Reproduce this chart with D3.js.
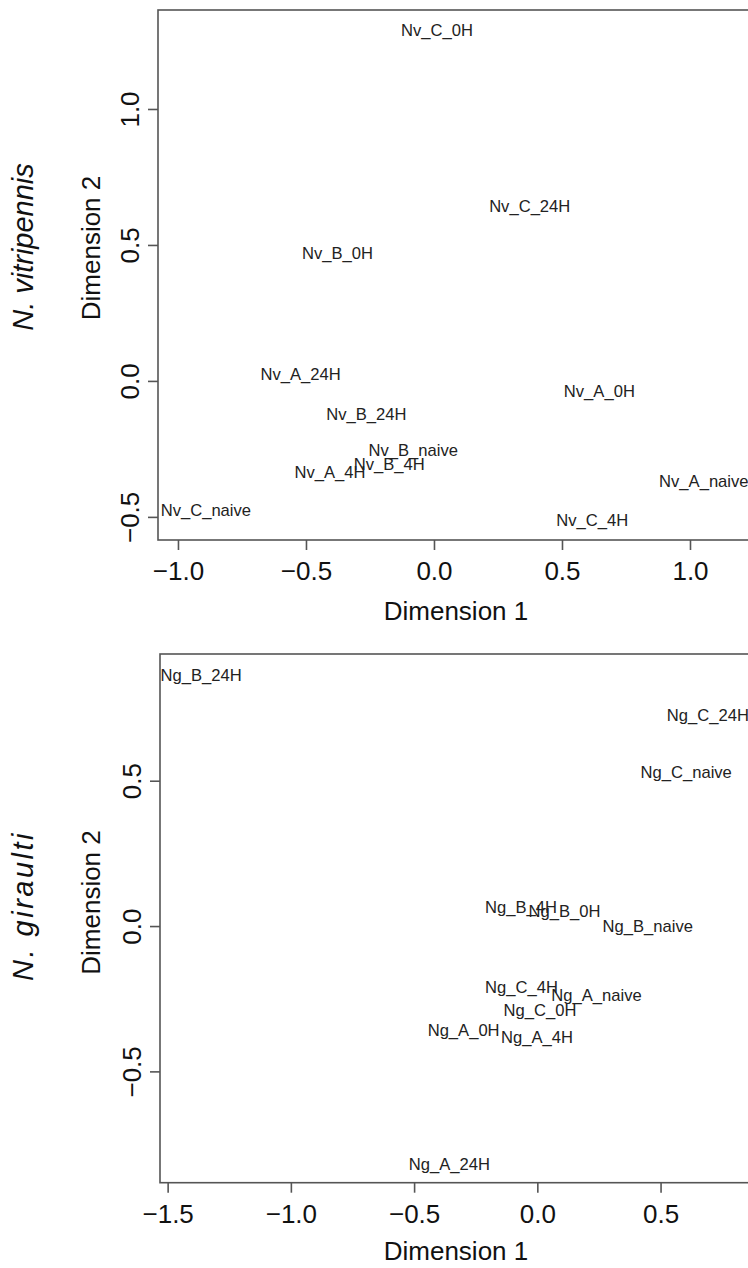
<!DOCTYPE html>
<html>
<head>
<meta charset="utf-8">
<script src="https://cdn.jsdelivr.net/npm/d3@7"></script>
<style>
  body { margin: 0; background: #fff; }
  svg { display: block; font-family: "Liberation Sans", Arial, sans-serif; }
</style>
</head>
<body>
<script>
// MDS coordinates
var nvLabels = ["Nv_C_0H", "Nv_C_24H", "Nv_B_0H", "Nv_A_24H", "Nv_B_24H", "Nv_B_naive",
                "Nv_B_4H", "Nv_A_4H", "Nv_C_naive", "Nv_A_0H", "Nv_A_naive", "Nv_C_4H"];
var nvDim1 = [0.012, 0.374, -0.377, -0.521, -0.264, -0.081, -0.175, -0.406, -0.891, 0.646, 1.054, 0.618];
var nvDim2 = [1.289, 0.643, 0.469, 0.026, -0.121, -0.254, -0.307, -0.335, -0.475, -0.036, -0.370, -0.511];

var ngLabels = ["Ng_B_24H", "Ng_C_24H", "Ng_C_naive", "Ng_B_4H", "Ng_B_0H", "Ng_B_naive",
                "Ng_C_4H", "Ng_A_naive", "Ng_C_0H", "Ng_A_0H", "Ng_A_4H", "Ng_A_24H"];
var ngDim1 = [-1.364, 0.692, 0.604, -0.066, 0.110, 0.448, -0.064, 0.240, 0.011, -0.299, -0.001, -0.357];
var ngDim2 = [0.864, 0.726, 0.530, 0.066, 0.052, -0.002, -0.212, -0.237, -0.289, -0.357, -0.382, -0.820];

var nvXTicks = [-1.0, -0.5, 0.0, 0.5, 1.0];
var nvYTicks = [-0.5, 0.0, 0.5, 1.0];
var ngXTicks = [-1.5, -1.0, -0.5, 0.0, 0.5];
var ngYTicks = [-0.5, 0.0, 0.5];

var width = 748, height = 1268;
var svg = d3.select("body").append("svg")
    .attr("width", width)
    .attr("height", height);

var fmt = d3.format(".1f");
var axisCol = "#555";

function panel(opt) {
    var x = d3.scaleLinear().domain(opt.xdom).range([opt.left, opt.right]);
    var y = d3.scaleLinear().domain(opt.ydom).range([opt.bottom, opt.top]);
    var g = svg.append("g");

    // box (right side runs off the picture)
    g.append("rect")
        .attr("x", opt.left).attr("y", opt.top)
        .attr("width", opt.right - opt.left).attr("height", opt.bottom - opt.top)
        .attr("fill", "none").attr("stroke", axisCol).attr("stroke-width", 1.6);

    var xa = g.append("g")
        .attr("transform", "translate(0," + opt.bottom + ")")
        .call(d3.axisBottom(x).tickValues(opt.xticks).tickSize(10).tickFormat(fmt));
    xa.select(".domain").remove();
    xa.selectAll("line").attr("stroke", axisCol).attr("stroke-width", 1.6);
    xa.selectAll("text")
        .attr("y", 40).attr("dy", 0)
        .attr("fill", "#111")
        .style("font-size", "26px")
        .style("font-family", "'Liberation Sans', Arial, sans-serif");

    var ya = g.append("g")
        .attr("transform", "translate(" + opt.left + ",0)")
        .call(d3.axisLeft(y).tickValues(opt.yticks).tickSize(10).tickFormat(fmt));
    ya.select(".domain").remove();
    ya.selectAll("line").attr("stroke", axisCol).attr("stroke-width", 1.6);
    ya.selectAll("text")
        .attr("x", 0).attr("y", 0).attr("dy", 0)
        .attr("transform", "translate(-19,0) rotate(-90)")
        .attr("text-anchor", "middle")
        .attr("fill", "#111")
        .style("font-size", "26px")
        .style("font-family", "'Liberation Sans', Arial, sans-serif");

    // sample names centred on their coordinates
    var pts = opt.labels.map(function(d, i) { return {name: d, d1: opt.d1[i], d2: opt.d2[i]}; });
    g.selectAll(".lab")
        .data(pts)
        .enter().append("text")
        .attr("class", "lab")
        .attr("x", function(d) { return x(d.d1); })
        .attr("y", function(d) { return y(d.d2); })
        .attr("dy", "0.35em")
        .attr("text-anchor", "middle")
        .attr("fill", "#222")
        .style("font-size", "16.6px")
        .text(function(d) { return d.name; });

    g.append("text")
        .attr("x", (opt.left + opt.right) / 2)
        .attr("y", opt.xlabY)
        .attr("text-anchor", "middle")
        .attr("fill", "#111")
        .style("font-size", "26px")
        .text("Dimension 1");

    g.append("text")
        .attr("transform", "translate(99.5," + opt.ylabMid + ") rotate(-90)")
        .attr("text-anchor", "middle")
        .attr("fill", "#111")
        .style("font-size", "26px")
        .text("Dimension 2");

    g.append("text")
        .attr("transform", "translate(32.5," + opt.spMid + ") rotate(-90)")
        .attr("text-anchor", "middle")
        .attr("fill", "#111")
        .style("font-size", "29px")
        .style("font-style", "italic")
        .style("letter-spacing", opt.spSpacing + "px")
        .text(opt.species);
}

panel({
    labels: nvLabels, d1: nvDim1, d2: nvDim2,
    xdom: [-1.078, 1.25], ydom: [-0.585, 1.364],
    left: 158, right: 754, top: 10, bottom: 540,
    xticks: nvXTicks, yticks: nvYTicks,
    xlabY: 620, ylabMid: 248, spMid: 247, spSpacing: 0,
    species: "N. vitripennis"
});

panel({
    labels: ngLabels, d1: ngDim1, d2: ngDim2,
    xdom: [-1.531, 0.871], ydom: [-0.883, 0.936],
    left: 160, right: 752, top: 654, bottom: 1182.7,
    xticks: ngXTicks, yticks: ngYTicks,
    xlabY: 1260, ylabMid: 902.5, spMid: 906, spSpacing: 2.5,
    species: "N. giraulti"
});
</script>
</body>
</html>
